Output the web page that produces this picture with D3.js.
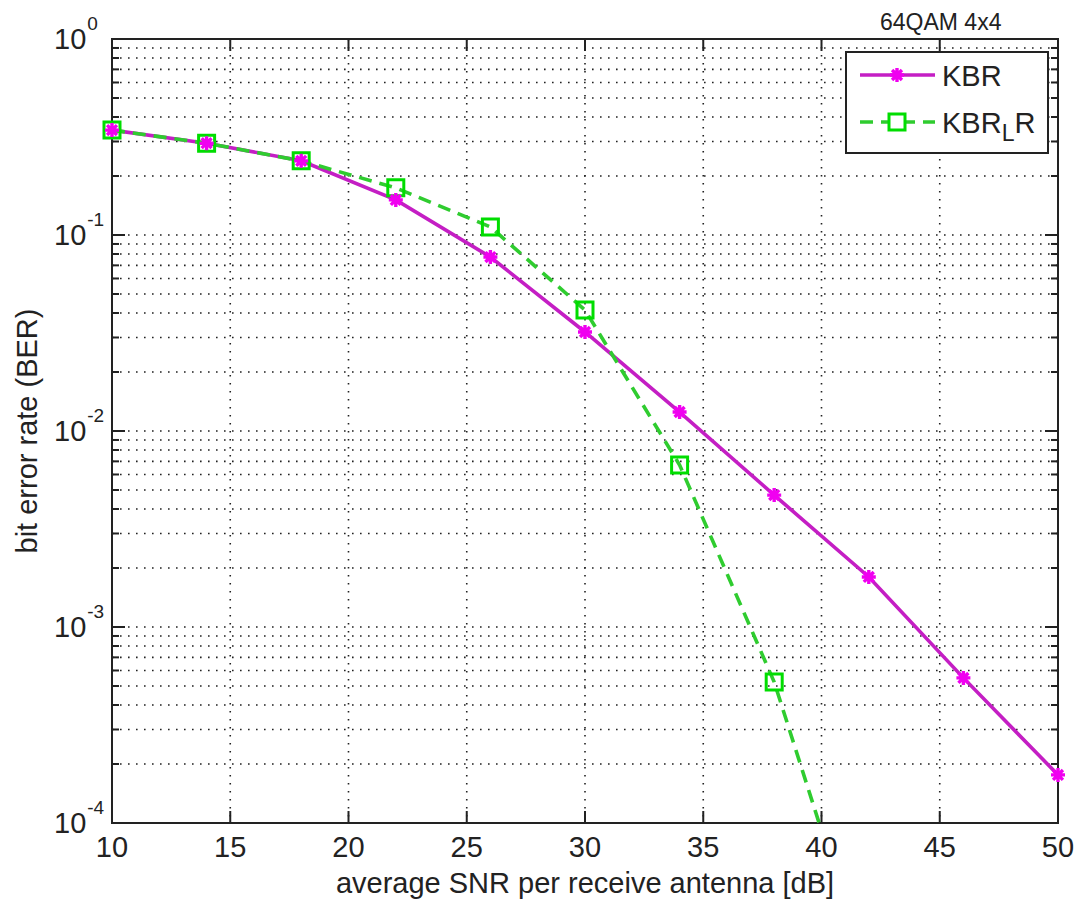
<!DOCTYPE html>
<html>
<head>
<meta charset="utf-8">
<script src="https://cdn.jsdelivr.net/npm/d3@7"></script>
<style>
  html, body { margin: 0; padding: 0; background: #fff; }
  svg { display: block; font-family: "Liberation Sans", Arial, sans-serif; }
</style>
</head>
<body>
<svg id="chart" width="1081" height="905"></svg>
<script>
// SNR sweep points [dB]
const snrKBR = [10, 14, 18, 22, 26, 30, 34, 38, 42, 46, 50];
const berKBR = [0.343, 0.294, 0.239, 0.151, 0.0772, 0.0320, 0.0125, 0.00471, 0.00180, 0.00055, 0.000176];

const snrKBRL = [10, 14, 18, 22, 26, 30, 34, 38, 42];
const berKBRL = [0.343, 0.294, 0.239, 0.174, 0.110, 0.0414, 0.00671, 0.000524, 0.000016];

const xTicks = [10, 15, 20, 25, 30, 35, 40, 45, 50];
const yDecades = [1, 0.1, 0.01, 0.001, 0.0001];
const yExponents = ["0", "-1", "-2", "-3", "-4"];

const svg = d3.select("#chart");
const L = 112, R = 1058, T = 39, B = 823;

const x = d3.scaleLinear().domain([10, 50]).range([L, R]);
const y = d3.scaleLog().domain([1e-4, 1]).range([B, T]);

const ink = "#222";

// log positions 1..9 x decade
const minorY = [];
for (let e = -4; e < 0; e++) for (let m = 1; m <= 9; m++) minorY.push(m * Math.pow(10, e));
const yGridVals = minorY.filter(v => v > 1e-4);

// dotted grid
const grid = svg.append("g").attr("stroke", ink).attr("stroke-width", 1.6)
  .attr("stroke-dasharray", "1.6,6.4");
grid.selectAll("line.gx").data(xTicks.filter(v => v > 10 && v < 50)).join("line")
  .attr("x1", d => x(d)).attr("x2", d => x(d)).attr("y1", T).attr("y2", B);
grid.selectAll("line.gy").data(yGridVals).join("line")
  .attr("x1", L).attr("x2", R).attr("y1", d => y(d)).attr("y2", d => y(d));

// box and ticks
const axes = svg.append("g").attr("stroke", ink).attr("stroke-width", 2);
axes.append("rect").attr("x", L).attr("y", T).attr("width", R - L).attr("height", B - T)
  .attr("fill", "none");
xTicks.forEach(v => {
  axes.append("line").attr("x1", x(v)).attr("x2", x(v)).attr("y1", B).attr("y2", B - 12);
  axes.append("line").attr("x1", x(v)).attr("x2", x(v)).attr("y1", T).attr("y2", T + 12);
});
minorY.concat([1]).forEach(v => {
  const isMajor = yDecades.includes(v);
  const len = isMajor ? 13 : 7;
  axes.append("line").attr("x1", L).attr("x2", L + len).attr("y1", y(v)).attr("y2", y(v));
  axes.append("line").attr("x1", R).attr("x2", R - len).attr("y1", y(v)).attr("y2", y(v));
});

// tick labels
svg.append("g").selectAll("text").data(xTicks).join("text")
  .attr("x", d => x(d)).attr("y", B + 34)
  .attr("text-anchor", "middle").attr("font-size", 29).attr("fill", ink)
  .text(d => d);

const yl = svg.append("g").attr("fill", ink);
yDecades.forEach((v, i) => {
  const t = yl.append("text").attr("x", 54).attr("y", y(v) + 10).attr("font-size", 29);
  t.append("tspan").text("10");
  t.append("tspan").attr("dy", -19).attr("dx", 1).attr("font-size", 19).text(yExponents[i]);
});

// axis titles
svg.append("text").attr("x", (L + R) / 2).attr("y", 893)
  .attr("text-anchor", "middle").attr("font-size", 29).attr("fill", ink)
  .text("average SNR per receive antenna [dB]");
svg.append("text")
  .attr("transform", `translate(37,${(T + B) / 2}) rotate(-90)`)
  .attr("text-anchor", "middle").attr("font-size", 29).attr("fill", ink)
  .text("bit error rate (BER)");

svg.append("text").attr("x", 880).attr("y", 30)
  .attr("font-size", 23).attr("fill", ink).text("64QAM 4x4");

// series
const magentaLine = "#c41ec4", magentaMark = "#f000f0";
const greenLine = "#2fcc2f", greenMark = "#00dd00";

svg.append("defs").append("clipPath").attr("id", "plotArea")
  .append("rect").attr("x", L).attr("y", T).attr("width", R - L).attr("height", B - T);

const line = d3.line().x(d => x(d[0])).y(d => y(d[1]));
const kbr = snrKBR.map((s, i) => [s, berKBR[i]]);
const kbrl = snrKBRL.map((s, i) => [s, berKBRL[i]]);

const plot = svg.append("g");
const lines = plot.append("g").attr("clip-path", "url(#plotArea)");
lines.append("path").datum(kbr).attr("d", line).attr("fill", "none")
  .attr("stroke", magentaLine).attr("stroke-width", 3.6);
lines.append("path").datum(kbrl).attr("d", line).attr("fill", "none")
  .attr("stroke", greenLine).attr("stroke-width", 3.6).attr("stroke-dasharray", "13,8");

const starPath = r => {
  const d = r * Math.SQRT1_2;
  return `M${-r},0L${r},0M0,${-r}L0,${r}M${-d},${-d}L${d},${d}M${-d},${d}L${d},${-d}`;
};
const sq = 8;

plot.append("g").selectAll("path").data(kbrl.filter(d => d[1] >= 1e-4)).join("path")
  .attr("transform", d => `translate(${x(d[0])},${y(d[1])})`)
  .attr("d", `M${-sq},${-sq}H${sq}V${sq}H${-sq}Z`)
  .attr("fill", "none").attr("stroke", greenMark).attr("stroke-width", 3);

plot.append("g").selectAll("path").data(kbr).join("path")
  .attr("transform", d => `translate(${x(d[0])},${y(d[1])})`)
  .attr("d", starPath(7)).attr("stroke", magentaMark).attr("stroke-width", 3.4);

// legend
const lg = svg.append("g");
lg.append("rect").attr("x", 846).attr("y", 52).attr("width", 202).attr("height", 101)
  .attr("fill", "#fff").attr("stroke", ink).attr("stroke-width", 2);
lg.append("line").attr("x1", 860).attr("x2", 935).attr("y1", 75).attr("y2", 75)
  .attr("stroke", magentaLine).attr("stroke-width", 3.6);
lg.append("path").attr("transform", "translate(897,75)").attr("d", starPath(7))
  .attr("stroke", magentaMark).attr("stroke-width", 3.4);
lg.append("text").attr("x", 942).attr("y", 86).attr("font-size", 29).attr("fill", ink).text("KBR");

lg.append("line").attr("x1", 860).attr("x2", 935).attr("y1", 122).attr("y2", 122)
  .attr("stroke", greenLine).attr("stroke-width", 3.6).attr("stroke-dasharray", "13,8");
lg.append("path").attr("transform", "translate(897,122)")
  .attr("d", `M${-sq},${-sq}H${sq}V${sq}H${-sq}Z`)
  .attr("fill", "#fff").attr("stroke", greenMark).attr("stroke-width", 3);
const t2 = lg.append("text").attr("x", 942).attr("y", 133).attr("font-size", 29).attr("fill", ink);
t2.append("tspan").text("KBR");
t2.append("tspan").attr("dy", 8).attr("font-size", 23).text("L");
t2.append("tspan").attr("dy", -8).text("R");
</script>
</body>
</html>
